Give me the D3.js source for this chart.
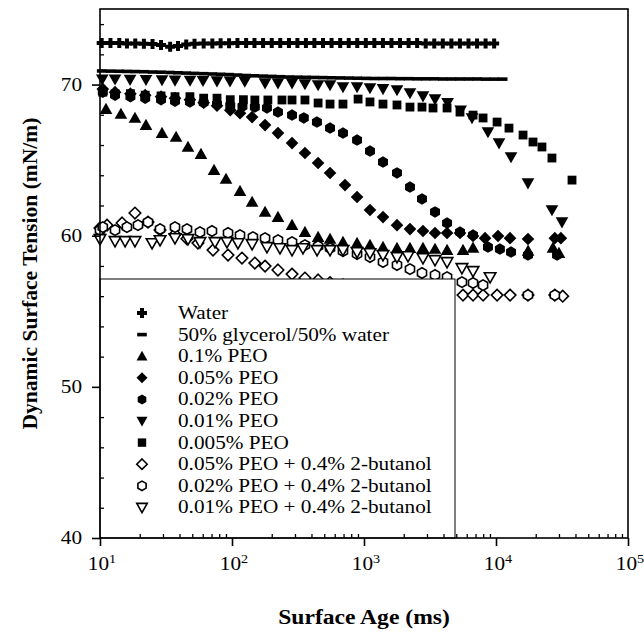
<!DOCTYPE html>
<html>
<head>
<meta charset="utf-8">
<script src="https://cdn.jsdelivr.net/npm/d3@7"></script>
<style>
  body { margin: 0; background: #fff; }
  svg { display: block; font-family: "Liberation Serif", "Times New Roman", serif; }
</style>
</head>
<body>
<svg id="chart" width="644" height="640"></svg>
<script>
// Data: [surface age (ms), dynamic surface tension (mN/m)]
const water = [[10.3,72.75],[12,72.75],[14,72.75],[16,72.72],[18.5,72.72],[21.5,72.7],[25,72.68],[29,72.62],[34,72.5],[39,72.56],[45,72.65],[52,72.7],[61,72.72],[71,72.72],[82,72.74],[95,72.74],[110,72.75],[128,72.75],[148,72.75],[172,72.75],[200,72.75],[232,72.75],[270,72.75],[313,72.75],[363,72.75],[421,72.75],[489,72.75],[568,72.75],[660,72.75],[766,72.75],[889,72.75],[1032,72.75],[1198,72.75],[1391,72.75],[1615,72.75],[1875,72.75],[2177,72.75],[2527,72.75],[2934,72.72],[3406,72.72],[3954,72.72],[4591,72.72],[5330,72.72],[6188,72.72],[7184,72.72],[8340,72.72],[9683,72.72]];

const glycerol = [[10.3,70.9],[12,70.89],[14,70.88],[16,70.87],[18.5,70.86],[21.5,70.85],[25,70.83],[29,70.82],[34,70.8],[39,70.78],[45,70.76],[52,70.74],[61,70.72],[71,70.7],[82,70.68],[95,70.66],[110,70.63],[128,70.6],[148,70.58],[172,70.56],[200,70.54],[232,70.52],[270,70.5],[313,70.49],[363,70.48],[421,70.47],[489,70.46],[568,70.45],[660,70.44],[766,70.43],[889,70.42],[1032,70.41],[1198,70.4],[1391,70.4],[1615,70.4],[1875,70.39],[2177,70.39],[2527,70.38],[2934,70.38],[3406,70.38],[3954,70.37],[4591,70.37],[5330,70.37],[6188,70.37],[7184,70.37],[8340,70.36],[9683,70.36],[11240,70.36]];

const peo01 = [[11.1,68.38],[14.4,68.05],[18.4,67.79],[22.3,67.32],[29.5,66.79],[37.7,66.53],[46.4,65.87],[58.2,65.4],[73.1,64.34],[90.1,63.75],[115,62.95],[142,62.23],[178,61.57],[223,61.23],[285,60.7],[357,60.24],[449,59.91],[553,59.78],[693,59.58],[886,59.51],[1110,59.38],[1393,59.25],[1778,59.18],[2230,59.18],[2798,59.18],[3451,59.12],[4258,59.05],[5623,59.05],[6699,59.2],[17500,59.0],[27000,59.2],[30000,58.85]];

const peo005 = [[10.5,69.7],[13,69.5],[17,69.4],[22,69.3],[29,69.2],[37,69.1],[48,69.0],[61,68.8],[77,68.6],[97,68.3],[115,68.1],[142,67.85],[178,67.32],[223,66.79],[285,66.13],[357,65.47],[449,64.81],[553,64.15],[718,63.35],[886,62.56],[1110,61.7],[1393,61.23],[1778,60.7],[2230,60.44],[2798,60.31],[3451,60.18],[4258,60.18],[5337,60.18],[6699,59.98],[8260,59.84],[10360,59.98],[12770,59.84],[17470,59.78],[27900,59.84],[31000,59.84]];

const peo002 = [[10.5,69.5],[13,69.3],[17,69.2],[22,69.1],[29,69.0],[37,68.9],[48,68.85],[61,68.8],[77,68.7],[97,68.6],[120,68.55],[149,68.51],[184,68.45],[223,68.18],[285,67.98],[350,67.79],[440,67.52],[553,67.12],[693,66.79],[886,66.33],[1110,65.6],[1393,64.87],[1778,64.15],[2230,63.22],[2750,62.43],[3451,61.57],[4258,60.84],[5337,60.24],[6699,60.04],[8690,59.25],[10700,59.12],[13000,58.92],[17470,58.72],[29000,58.72]];

const peo001 = [[10.4,70.35],[13,70.35],[16.9,70.33],[22.3,70.32],[29.5,70.3],[37,70.28],[48.1,70.27],[60.3,70.25],[76.9,70.23],[96.6,70.22],[125,70.2],[178,70.1],[223,70.1],[285,70.1],[357,70.04],[449,69.97],[553,69.97],[693,69.84],[886,69.84],[1110,69.77],[1393,69.71],[1778,69.64],[2230,69.44],[2798,69.24],[3451,69.04],[4300,68.8],[5400,68.3],[6577,67.79],[8690,66.86],[10540,66.13],[13000,65.21],[17470,63.48],[26540,61.7],[31620,60.9]];

const peo0005 = [[10.5,69.5],[13,69.4],[17,69.4],[22,69.3],[29,69.25],[37,69.2],[48,69.2],[61,69.1],[77,69.1],[97,69.0],[122,69.0],[149,68.98],[187,68.98],[239,68.98],[285,68.98],[357,68.98],[449,68.78],[553,68.71],[693,68.71],[902,69.04],[1110,68.85],[1393,68.71],[1778,68.65],[2230,68.51],[2750,68.51],[3334,68.45],[4258,68.45],[5337,68.18],[6699,67.98],[7980,67.79],[10190,67.52],[12540,67.12],[16030,66.66],[19070,66.2],[22290,65.87],[26540,65.14],[37660,63.68]];

const peo005But = [[10,60.51],[11.3,60.7],[14.7,60.84],[18.4,61.5],[23.1,60.9],[28.5,60.37],[37,60.1],[45.6,59.8],[55.2,59.51],[71.8,59.05],[93.3,58.72],[119,58.52],[149,58.19],[178,57.99],[223,57.73],[285,57.46],[357,57.2],[449,57.07],[553,56.9],[693,56.75],[886,56.6],[1110,56.45],[1393,56.35],[1778,56.25],[2230,56.2],[2798,56.15],[3451,56.1],[4258,56.1],[5623,56.07],[6699,56.07],[7980,56.07],[10190,56.07],[12790,56.07],[17470,56.07],[27900,56.07],[32000,56.0]];

const peo002But = [[10,60.37],[10.5,60.57],[13,60.37],[16,60.57],[19.4,60.7],[23.1,60.9],[28.5,60.44],[37,60.57],[45.6,60.44],[57.2,60.24],[70.5,60.31],[93.3,60.18],[115,60.04],[144,59.91],[178,59.84],[223,59.71],[285,59.58],[357,59.38],[449,59.31],[553,59.18],[693,58.98],[886,58.79],[1110,58.59],[1393,58.26],[1778,58.06],[2230,57.79],[2750,57.53],[3451,57.4],[4258,57.26],[5520,56.93],[6699,56.87],[7980,56.73],[17470,56.07],[27900,56.07]];

const peo001But = [[10,59.78],[13,59.65],[15.5,59.65],[18.4,59.65],[24.8,59.51],[28.5,59.71],[37,59.84],[46.4,59.78],[57.2,59.58],[74.3,59.58],[91.6,59.58],[111,59.51],[142,59.45],[184,59.25],[231,59.18],[285,59.05],[345,59.18],[441,59.05],[553,59.05],[693,59.05],[886,58.92],[1110,58.85],[1393,58.72],[1778,58.59],[2155,58.65],[2798,58.52],[3451,58.39],[4258,58.26],[5520,57.86],[6699,57.66],[9020,57.26]];

const series = [
    { name: 'Water', values: water, shape: 'cross', open: false },
    { name: '50% glycerol/50% water', values: glycerol, shape: 'dash', open: false },
    { name: '0.1% PEO', values: peo01, shape: 'triUp', open: false },
    { name: '0.05% PEO', values: peo005, shape: 'diamond', open: false },
    { name: '0.02% PEO', values: peo002, shape: 'hex', open: false },
    { name: '0.01% PEO', values: peo001, shape: 'triDown', open: false },
    { name: '0.005% PEO', values: peo0005, shape: 'square', open: false },
    { name: '0.05% PEO + 0.4% 2-butanol', values: peo005But, shape: 'diamond', open: true },
    { name: '0.02% PEO + 0.4% 2-butanol', values: peo002But, shape: 'hex', open: true },
    { name: '0.01% PEO + 0.4% 2-butanol', values: peo001But, shape: 'triDown', open: true },
];

const yMajor = [40, 50, 60, 70];
const yMinor = [42, 44, 46, 48, 52, 54, 56, 58, 62, 64, 66, 68, 72, 74];
const xDecades = [1, 2, 3, 4, 5];

const width = 644;
const height = 640;
const margin = { top: 9, right: 16, bottom: 102, left: 100 };

// the source figure's lettering is a little wider than plain Times
const stretch = 1.18;

const svg = d3.select('#chart');

const xScale = d3.scaleLog()
    .domain([10, 1e5])
    .range([margin.left, width - margin.right]);

const yScale = d3.scaleLinear()
    .domain([40, 75])
    .range([height - margin.bottom, margin.top]);

// polygon outline for each marker kind, centred on 0,0
function shapePath(kind, s) {
    let pts;
    if (kind === 'cross') {
        const a = s * 0.5, b = s * 0.2;
        pts = [[-b,-a],[b,-a],[b,-b],[a,-b],[a,b],[b,b],[b,a],[-b,a],[-b,b],[-a,b],[-a,-b],[-b,-b]];
    } else if (kind === 'dash') {
        pts = [[-4.8,-1.8],[4.8,-1.8],[4.8,1.8],[-4.8,1.8]];
    } else if (kind === 'triUp') {
        pts = [[0,-s*0.55],[s*0.55,s*0.42],[-s*0.55,s*0.42]];
    } else if (kind === 'triDown') {
        pts = [[0,s*0.55],[s*0.55,-s*0.42],[-s*0.55,-s*0.42]];
    } else if (kind === 'diamond') {
        pts = [[0,-s*0.55],[s*0.55,0],[0,s*0.55],[-s*0.55,0]];
    } else if (kind === 'hex') {
        pts = d3.range(6).map(i => {
            const t = Math.PI / 6 + i * Math.PI / 3;
            return [s * 0.5 * Math.cos(t), s * 0.5 * Math.sin(t)];
        });
    } else {
        pts = [[-s*0.42,-s*0.42],[s*0.42,-s*0.42],[s*0.42,s*0.42],[-s*0.42,s*0.42]];
    }
    return 'M' + pts.map(p => p.join(',')).join('L') + 'Z';
}

function markerSize(d) {
    if (d.shape === 'cross') return 10;
    if (d.open) return 10.5;
    if (d.shape === 'square') return 10.5;
    return 11.5;
}

// text placed at x,y and widened by the stretch factor
function wideText(sel, x, y) {
    return sel.append('text')
        .attr('transform', `translate(${x},${y}) scale(${stretch},1)`);
}

// Data markers
const marks = svg.append('g').attr('class', 'marks');

series.forEach(s => {
    marks.append('g')
        .selectAll('path')
        .data(s.values)
        .join('path')
        .attr('transform', d => `translate(${xScale(d[0])},${yScale(d[1])})`)
        .attr('d', shapePath(s.shape, markerSize(s)))
        .attr('fill', s.open ? '#fff' : '#000')
        .attr('stroke', s.open ? '#000' : 'none')
        .attr('stroke-width', 1.6);
});

// Legend box drawn over the data
const legendBox = { x: margin.left, y: 279, w: 355, h: yScale(40) - 279 };

const legend = svg.append('g').attr('class', 'legend');

legend.append('rect')
    .attr('x', legendBox.x)
    .attr('y', legendBox.y)
    .attr('width', legendBox.w)
    .attr('height', legendBox.h)
    .attr('fill', '#fff')
    .attr('stroke', '#000')
    .attr('stroke-width', 1);

series.forEach((s, i) => {
    const ry = 313 + i * 21.6;
    legend.append('path')
        .attr('transform', `translate(142,${ry})`)
        .attr('d', shapePath(s.shape, s.open ? 9.5 : 10))
        .attr('fill', s.open ? '#fff' : '#000')
        .attr('stroke', s.open ? '#000' : 'none')
        .attr('stroke-width', 1.6);

    wideText(legend, 178, ry + 6)
        .attr('font-size', 18)
        .text(s.name);
});

// Frame
svg.append('rect')
    .attr('x', xScale(10))
    .attr('y', yScale(75))
    .attr('width', xScale(1e5) - xScale(10))
    .attr('height', yScale(40) - yScale(75))
    .attr('fill', 'none')
    .attr('stroke', '#000')
    .attr('stroke-width', 1.6);

// Y axis: major ticks outside, minor ticks inside
const yAxis = svg.append('g')
    .attr('transform', `translate(${margin.left},0)`);

yAxis.append('g')
    .call(d3.axisLeft(yScale).tickValues(yMajor).tickSize(8).tickFormat(''))
    .call(g => g.select('.domain').remove())
    .call(g => g.selectAll('line').attr('stroke-width', 1.6));

yAxis.append('g')
    .call(d3.axisLeft(yScale).tickValues(yMinor).tickSize(-4).tickFormat(''))
    .call(g => g.select('.domain').remove())
    .call(g => g.selectAll('line').attr('stroke-width', 1.3));

yMajor.forEach(v => {
    wideText(svg, 82, yScale(v) + 6)
        .attr('text-anchor', 'end')
        .attr('font-size', 18)
        .text(v);
});

// X axis: decade ticks outside, 2..9 ticks inside
const xAxis = svg.append('g')
    .attr('transform', `translate(0,${yScale(40)})`);

const minorX = [];
xDecades.slice(0, -1).forEach(e => {
    for (let m = 2; m <= 9; m++) minorX.push(m * Math.pow(10, e));
});

xAxis.append('g')
    .call(d3.axisBottom(xScale).tickValues(minorX).tickSize(-4).tickFormat(''))
    .call(g => g.select('.domain').remove())
    .call(g => g.selectAll('line').attr('stroke-width', 1.3));

xAxis.append('g')
    .call(d3.axisBottom(xScale).tickValues(xDecades.map(e => Math.pow(10, e))).tickSize(8).tickFormat(''))
    .call(g => g.select('.domain').remove())
    .call(g => g.selectAll('line').attr('stroke-width', 1.6));

xDecades.forEach(e => {
    const t = wideText(svg, xScale(Math.pow(10, e)) + 2, yScale(40) + 32)
        .attr('text-anchor', 'middle')
        .attr('font-size', 18);
    t.append('tspan').text('10');
    t.append('tspan')
        .attr('font-size', 12)
        .attr('dy', -7)
        .text(e);
});

// Axis titles
wideText(svg, (xScale(10) + xScale(1e5)) / 2, 624)
    .attr('text-anchor', 'middle')
    .attr('font-size', 20)
    .attr('font-weight', 'bold')
    .text('Surface Age (ms)');

svg.append('text')
    .attr('transform', `translate(37,${(yScale(40) + yScale(75)) / 2}) rotate(-90)`)
    .attr('text-anchor', 'middle')
    .attr('font-size', 21)
    .attr('font-weight', 'bold')
    .attr('textLength', 312)
    .attr('lengthAdjust', 'spacingAndGlyphs')
    .text('Dynamic Surface Tension (mN/m)');
</script>
</body>
</html>
